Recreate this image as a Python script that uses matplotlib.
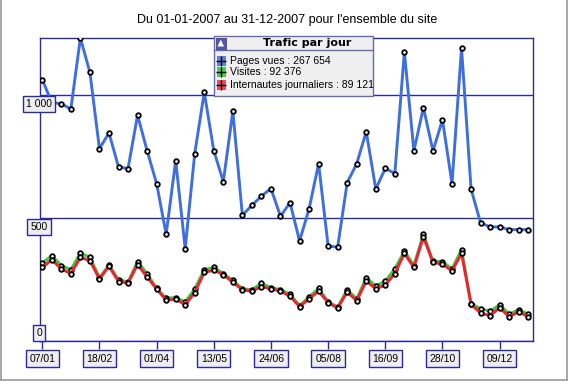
import numpy as np
import matplotlib.pyplot as plt
from matplotlib.patches import Rectangle, Polygon
from matplotlib.lines import Line2D

# données hebdomadaires (moyenne par jour)
weeks = np.arange(52)
pages_vues = [1064, 970, 966, 944, 1233, 1093, 783, 847, 709, 702,
              919, 775, 641, 435, 734, 377, 763, 1012, 775, 649,
              935, 512, 553, 590, 621, 508, 564, 408, 538, 722,
              387, 383, 645, 722, 852, 619, 703, 682, 1176, 774,
              950, 774, 900, 641, 1192, 619, 481, 465, 465, 454,
              454, 454]
visites = [318, 348, 308, 291, 359, 341, 259, 309, 251, 241,
           324, 275, 215, 175, 178, 160, 213, 291, 300, 275,
           248, 213, 210, 235, 218, 210, 191, 145, 180, 215,
           161, 139, 210, 172, 259, 224, 245, 294, 367, 308,
           436, 326, 324, 294, 373, 153, 133, 122, 149, 110,
           129, 110]
internautes = [300, 332, 294, 275, 341, 328, 253, 305, 243, 237,
               312, 261, 213, 167, 171, 149, 198, 280, 289, 271,
               240, 209, 204, 222, 213, 204, 183, 141, 172, 204,
               157, 135, 200, 165, 245, 213, 229, 275, 357, 300,
               424, 321, 313, 286, 357, 150, 115, 104, 137, 99,
               121, 99]

tick_weeks = [0, 6, 12, 18, 24, 30, 36, 42, 48]
tick_labels = ["07/01", "18/02", "01/04", "13/05", "24/06", "05/08", "16/09", "28/10", "09/12"]
y_ticks = [0, 500, 1000]
y_labels = ["0", "500", "1 000"]
series_names = ["Pages vues : 267 654", "Visites : 92 376", "Internautes journaliers : 89 121"]
title = "Du 01-01-2007 au 31-12-2007 pour l'ensemble du site"

navy = "#2a2a9a"
box_bg = "#eeeeee"
colors = ["#3f6fdf", "#3cc83c", "#ee2233"]
square_colors = ["#5a7fdd", "#4ccc4c", "#ee4a5a"]

W, H = 573, 381
fig = plt.figure(figsize=(W / 100, H / 100), dpi=100)


def fx(px):
    return px / W


def fy(py):
    return 1 - py / H


ax = fig.add_axes([fx(39.7), fy(341.3), (533 - 39.7) / W, (341.3 - 37.7) / H])
for s in ax.spines.values():
    s.set_color(navy)
    s.set_linewidth(1)

for vals, c in zip([pages_vues, visites, internautes], colors):
    ax.plot(weeks, vals, color=c, lw=2.1, marker="o", ms=3.3,
            mfc="white", mec="black", mew=1.3, zorder=3)

ax.set_xlim(-0.27, 51.5)
ax.set_ylim(0, 1234)

# axe y : lignes de grille + étiquettes en boîte
ax.set_yticks(y_ticks)
ax.tick_params(axis="y", length=0, labelleft=False)
ax.grid(axis="y", color=navy, lw=1)
ax.set_axisbelow(True)
ybox = dict(boxstyle="square,pad=0.3", fc=box_bg, ec=navy, lw=1)
for v, lab in zip(y_ticks, y_labels):
    if v == 0:
        ax.annotate(lab, (0, v), xycoords=ax.get_yaxis_transform(), xytext=(-0.5, 2.3),
                    textcoords="offset points", ha="center", va="bottom",
                    fontsize=7.5, family="Liberation Sans", bbox=ybox, zorder=5)
    else:
        ax.annotate(lab, (0, v), xycoords=ax.get_yaxis_transform(), xytext=(-0.5, -2.6),
                    textcoords="offset points", ha="center", va="top",
                    fontsize=7.5, family="Liberation Sans", bbox=ybox, zorder=5,
                    annotation_clip=False)

# axe x : étiquettes en boîte
ax.set_xticks(tick_weeks, tick_labels)
ax.tick_params(axis="x", length=5.8, width=1, color=navy, pad=3.2, labelsize=7.5)
for lab in ax.get_xticklabels():
    lab.set_fontfamily("Liberation Sans")
    lab.set_bbox(dict(boxstyle="square,pad=0.35", fc=box_bg, ec=navy, lw=1))

fig.text(fx(287), fy(20), title, ha="center", va="center", fontsize=9, family="Liberation Sans")

# légende
fig.add_artist(Rectangle((fx(214), fy(96)), (373 - 214) / W, (96 - 36) / H,
                         transform=fig.transFigure, fc="#efefef", ec="#6a6ab4", lw=1, zorder=6))
fig.add_artist(Line2D([fx(214), fx(373)], [fy(50), fy(50)], transform=fig.transFigure,
                      color="#6a6ab4", lw=1, zorder=7))
fig.add_artist(Rectangle((fx(215.5), fy(48.5)), 10.5 / W, 11 / H, transform=fig.transFigure,
                         fc="#5555aa", ec="#44448a", lw=0.6, zorder=7))
fig.add_artist(Polygon([[fx(217.5), fy(46.5)], [fx(224), fy(46.5)], [fx(220.75), fy(39.5)]],
                       closed=True, transform=fig.transFigure, fc="white", ec="none", zorder=8))
fig.text(fx(307.5), fy(43), "Trafic par jour", ha="center", va="center", fontsize=8,
         weight="bold", family="DejaVu Sans", zorder=8)
rows_y = [61, 71.8, 85]
for name, sc, ry in zip(series_names, square_colors, rows_y):
    fig.add_artist(Rectangle((fx(216.5), fy(ry + 4.7)), 9.5 / W, 9.4 / H,
                             transform=fig.transFigure, fc=sc, ec="none", zorder=7))
    fig.add_artist(Line2D([fx(221.2)], [fy(ry)], marker="+", color="black", ms=7, mew=1,
                          transform=fig.transFigure, zorder=8))
    fig.text(fx(230), fy(ry), name, ha="left", va="center", fontsize=7.5,
             family="Liberation Sans", zorder=8)

# cadre gris autour de l'image
for xs, ys in [([1, 1], [0, 380]), ([567, 567], [0, 380]), ([1, 567], [380, 380])]:
    fig.add_artist(Line2D([fx(x) for x in xs], [fy(y) for y in ys],
                          transform=fig.transFigure, color="#999999", lw=1.2))

fig.savefig("out.png", dpi=100)
